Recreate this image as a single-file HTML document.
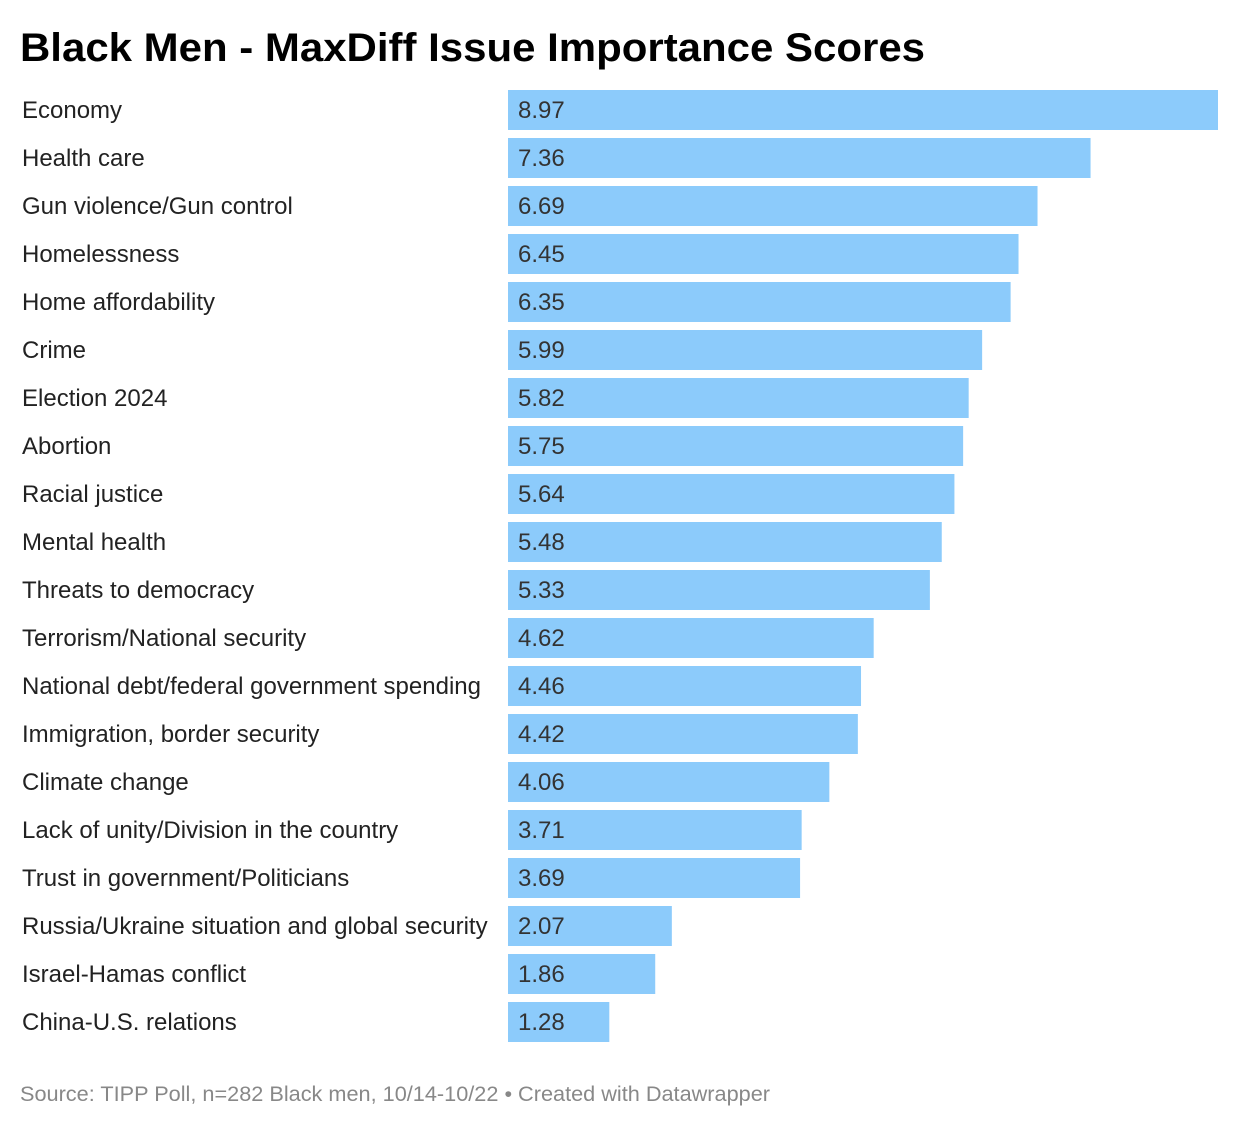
<!DOCTYPE html>
<html><head><meta charset="utf-8"><style>
html,body{margin:0;padding:0;background:#fff;}
svg{display:block;font-family:"Liberation Sans",Arial,sans-serif;}
</style></head><body>
<svg id="chart" width="1240" height="1128" viewBox="0 0 1240 1128">
<text x="20" y="61" font-size="40" font-weight="bold" fill="#000" textLength="905" lengthAdjust="spacingAndGlyphs">Black Men - MaxDiff Issue Importance Scores</text>
<g id="bars"></g>
<text x="20" y="1101" font-size="21.5" fill="#888" textLength="750" lengthAdjust="spacingAndGlyphs">Source: TIPP Poll, n=282 Black men, 10/14-10/22 • Created with Datawrapper</text>
</svg>
<script>
const categories = ["Economy","Health care","Gun violence/Gun control","Homelessness","Home affordability","Crime","Election 2024","Abortion","Racial justice","Mental health","Threats to democracy","Terrorism/National security","National debt/federal government spending","Immigration, border security","Climate change","Lack of unity/Division in the country","Trust in government/Politicians","Russia/Ukraine situation and global security","Israel-Hamas conflict","China-U.S. relations"];
const values = [8.97,7.36,6.69,6.45,6.35,5.99,5.82,5.75,5.64,5.48,5.33,4.62,4.46,4.42,4.06,3.71,3.69,2.07,1.86,1.28];
const valueLabels = ["8.97","7.36","6.69","6.45","6.35","5.99","5.82","5.75","5.64","5.48","5.33","4.62","4.46","4.42","4.06","3.71","3.69","2.07","1.86","1.28"];

const NS = "http://www.w3.org/2000/svg";
const x0 = 508, x1 = 1218;
const maxV = Math.max(...values);
const xScale = v => x0 + (v / maxV) * (x1 - x0);
const yScale = i => 90 + i * 48;
const g = document.getElementById("bars");
categories.forEach((c, i) => {
  const y = yScale(i);
  const lbl = document.createElementNS(NS, "text");
  lbl.setAttribute("x", 22); lbl.setAttribute("y", y + 28);
  lbl.setAttribute("font-size", "24"); lbl.setAttribute("fill", "#222");
  lbl.textContent = c;
  
  
  g.appendChild(lbl);
  const r = document.createElementNS(NS, "rect");
  r.setAttribute("x", x0); r.setAttribute("y", y);
  r.setAttribute("width", xScale(values[i]) - x0); r.setAttribute("height", 40);
  r.setAttribute("fill", "#8ccbfb");
  
  
  g.appendChild(r);
  const v = document.createElementNS(NS, "text");
  v.setAttribute("x", x0 + 10); v.setAttribute("y", y + 28);
  v.setAttribute("font-size", "24"); v.setAttribute("fill", "#333");
  v.textContent = valueLabels[i];
  
  
  g.appendChild(v);
});
</script>
</body></html>
